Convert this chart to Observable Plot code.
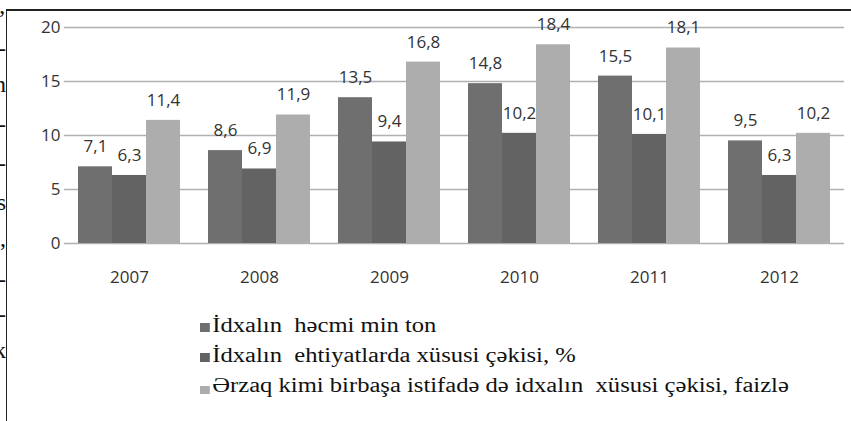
<!DOCTYPE html>
<html>
<head>
<meta charset="utf-8">
<script src="https://cdn.jsdelivr.net/npm/d3@7"></script>
<script src="https://cdn.jsdelivr.net/npm/@observablehq/plot@0.6"></script>
<style>
  html, body { margin: 0; padding: 0; background: #fff; }
  #wrap { position: relative; width: 851px; height: 421px; overflow: hidden; }
  #chart { position: absolute; left: 0; top: 0; }
  #frame { position: absolute; left: 6px; top: 9px; right: -4px; bottom: -4px;
           border-left: 1.5px solid #222; border-top: 2px solid #222; pointer-events: none; }
  #legend { position: absolute; left: 200px; top: 313px; }
  .item { position: absolute; left: 0; white-space: pre; height: 24px; line-height: 24px;
          font-family: "Liberation Serif", "DejaVu Serif", serif; font-size: 20px; color: #111;
          transform-origin: 0 50%; transform: scaleX(1.23); }
  .sw { display: inline-block; width: 8px; height: 9px; margin-right: 2px; vertical-align: 0px; }
  #edge { position: absolute; left: 0; top: 0; width: 6px; height: 421px; overflow: hidden;
          font-family: "Liberation Serif", serif; font-size: 24px; color: #111; }
  #edge span { position: absolute; right: 0; line-height: 1; }
</style>
</head>
<body>
<div id="wrap">
  <div id="chart"></div>
  <div id="frame"></div>
  <div id="legend"></div>
  <div id="edge"></div>
</div>
<script>
const years = ["2007", "2008", "2009", "2010", "2011", "2012"];
const seriesNames = [
  "İdxalın  həcmi min ton",
  "İdxalın  ehtiyatlarda xüsusi çəkisi, %",
  "Ərzaq kimi birbaşa istifadə də idxalın  xüsusi çəkisi, faizlə"
];
const volume = [7.1, 8.6, 13.5, 14.8, 15.5, 9.5];
const shareReserves = [6.3, 6.9, 9.4, 10.2, 10.1, 6.3];
const shareFood = [11.4, 11.9, 16.8, 18.4, 18.1, 10.2];
const yTicks = [0, 5, 10, 15, 20];
const colors = ["#6f6f6f", "#636363", "#adadad"];
const edgeChars = ["’", "-", "n", "-", "-", "s", ",", "-", "-", "k"];
const edgeTops = [6, 36, 72, 112, 151, 190, 226, 267, 302, 338];

const seriesValues = [volume, shareReserves, shareFood];
const data = [];
years.forEach((y, i) => seriesValues.forEach((vals, s) => data.push({year: y, series: seriesNames[s], value: vals[i]})));

const fmt = v => String(v).replace(".", ",");

const chart = Plot.plot({
  width: 851,
  height: 300,
  marginLeft: 62,
  marginRight: 5,
  marginTop: 27,
  marginBottom: 57,
  style: {fontFamily: "'Open Sans', sans-serif", fontSize: "17px", color: "#333", background: "transparent"},
  fx: {domain: years, paddingInner: 0.2, paddingOuter: 0.1, axis: null},
  x: {domain: seriesNames, padding: 0, axis: null},
  y: {domain: [0, 20], ticks: yTicks, axis: null},
  color: {domain: seriesNames, range: colors},
  marks: [
    Plot.ruleY(yTicks, {stroke: "#b0b0b0", strokeWidth: 1.5, insetLeft: -13.1, insetRight: -13.1}),
    Plot.axisY({ticks: yTicks, tickSize: 0, tickPadding: 17, label: null, fontSize: 17}),
    Plot.axisFx({anchor: "bottom", tickSize: 0, tickPadding: 27, label: null, fontSize: 17}),
    Plot.barY(data, {fx: "year", x: "series", y: "value", fill: "series"}),
    Plot.text(data, {fx: "year", x: "series", y: "value", text: d => fmt(d.value), dy: -20, fill: "#333", fontSize: 17})
  ]
});
document.getElementById("chart").appendChild(chart);

const legend = document.getElementById("legend");
seriesNames.forEach((name, i) => {
  const div = document.createElement("div");
  div.className = "item";
  div.style.top = (i * 30) + "px";
  const sw = document.createElement("span");
  sw.className = "sw";
  sw.style.background = colors[i];
  if (i === 2) { sw.style.height = "8px"; sw.style.verticalAlign = "-2px"; }
  div.appendChild(sw);
  div.appendChild(document.createTextNode(name));
  legend.appendChild(div);
});

const edge = document.getElementById("edge");
edgeChars.forEach((c, i) => {
  const s = document.createElement("span");
  s.textContent = c;
  s.style.top = edgeTops[i] + "px";
  edge.appendChild(s);
});
</script>
</body>
</html>
